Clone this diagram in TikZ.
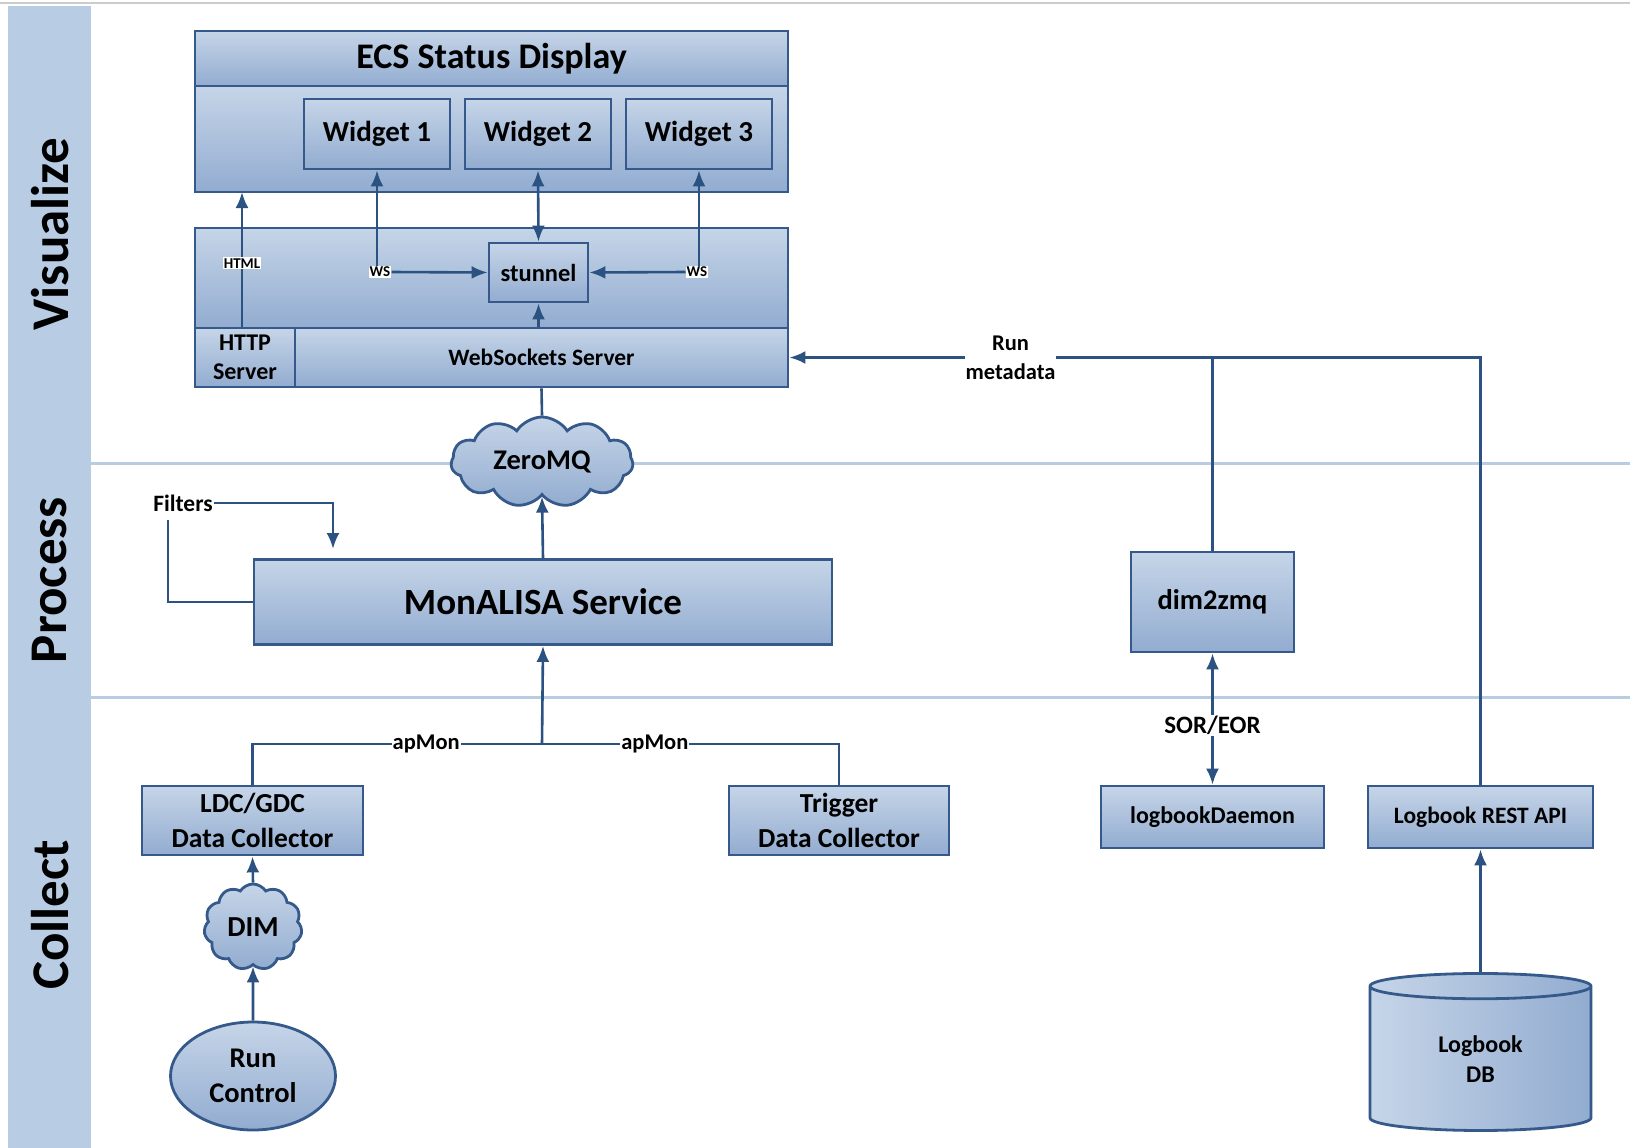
\documentclass[tikz,border=0pt]{standalone}
\usepackage{fontspec}
\setmainfont{Carlito}
\usepackage{tikz}
\usetikzlibrary{positioning,calc,arrows.meta,shapes.symbols,shapes.geometric}

\definecolor{bandblue}{HTML}{B8CCE4}
\definecolor{boxtop}{HTML}{C6D5E8}
\definecolor{boxbot}{HTML}{92ACD0}
\definecolor{edgeblue}{HTML}{34598A}
\definecolor{lineblue}{HTML}{2C5282}

\tikzset{
	box/.style={draw=edgeblue, line width=2.8pt, top color=boxtop, bottom color=boxbot,
		inner sep=0pt, align=center, font=\bfseries\fontsize{29}{33}\selectfont},
	cloudbox/.style={box, cloud, cloud puffs=11, cloud puff arc=115, aspect=2},
	conn/.style={draw=lineblue, line width=2.6pt},
	arr/.style={conn, -{Latex[length=16pt,width=13pt]}},
	biarr/.style={conn, {Latex[length=16pt,width=13pt]}-{Latex[length=16pt,width=13pt]}},
	lbl/.style={fill=white, inner sep=1pt, align=center, font=\bfseries\fontsize{22.5}{29}\selectfont},
	tiny/.style={fill=white, inner sep=1pt, font=\bfseries\fontsize{15}{17}\selectfont},
	lane/.style={rotate=90, font=\bfseries\fontsize{53}{53}\selectfont}
}

\begin{document}
\begin{tikzpicture}[x=1pt, y=-1pt]
	\useasboundingbox (0,0) rectangle (1630,1148);
	% lanes
	\draw[gray!40, line width=2pt] (0,3) -- (1630,3);
	\fill[bandblue] (8,6) rectangle (91,1148);
	\draw[bandblue, line width=3pt] (91,463) -- (1630,463);
	\draw[bandblue, line width=3pt] (91,697) -- (1630,697);
	\node[lane] (visu) at (50,234) {Visualize};
	\node[lane] (proc) at (50,580) {Process};
	\node[lane] (coll) at (50,915) {Collect};

	% status display
	\node[box, minimum width=593pt, minimum height=55pt, font=\bfseries\fontsize{36}{40}\selectfont] (ecstitle) at (491.5,58.5) {ECS Status Display};
	\node[box, minimum width=593pt, minimum height=106pt] (ecsbody) at (491.5,139) {};
	\node[box, minimum width=146pt, minimum height=70pt] (w1) at (377,134) {Widget 1};
	\node[box, minimum width=146pt, minimum height=70pt] (w2) at (538,134) {Widget 2};
	\node[box, minimum width=146pt, minimum height=70pt] (w3) at (699,134) {Widget 3};

	% servers
	\node[box, minimum width=593pt, minimum height=100pt] (srvtop) at (491.5,278) {};
	\node[box, minimum width=100pt, minimum height=59pt, font=\bfseries\fontsize{24}{29}\selectfont] (http) at (245,357.5) {HTTP\\Server};
	\node[box, minimum width=493pt, minimum height=59pt, font=\bfseries\fontsize{23.5}{26}\selectfont] (wss) at (541.5,357.5) {WebSockets Server};
	\node[box, minimum width=99pt, minimum height=59pt, font=\bfseries\fontsize{24.5}{27}\selectfont] (stun) at (538.5,272.5) {stunnel};
	\node[tiny] (wsl) at (380,272) {WS};
	\node[tiny] (wsr) at (697,272) {WS};

	\draw[arr] (http.north -| 242,0) -- node[tiny, pos=0.47] (html) {HTML} (242,192);
	\draw[arr] (wsl.north -| w1.south) -- (w1.south);
	\draw[arr] (wsl.east) -- (stun.west);
	\draw[arr] (wsr.north -| w3.south) -- (w3.south);
	\draw[arr] (wsr.west) -- (stun.east);
	\draw[biarr] (w2.south) -- (stun.north);
	\draw[arr] (stun.south |- wss.north) -- (stun.south);

	% process
	\node[cloudbox, minimum width=182pt, minimum height=90pt, font=\bfseries\fontsize{28.5}{32}\selectfont] (zmq) at (542,462) {ZeroMQ};
	\node[box, minimum width=578pt, minimum height=85pt, font=\bfseries\fontsize{37}{40}\selectfont] (mon) at (543,602) {MonALISA Service};
	\node[font=\bfseries\fontsize{23.5}{26}\selectfont, inner sep=1pt] (filt) at (183,503) {Filters};
	\coordinate (filtin) at (333,549);
	\coordinate (filtout) at (168,520);
	\draw[conn] (wss.south) -- (zmq.north);
	\draw[arr] (mon.north) -- (zmq.south);
	\draw[arr] (filt.east) -| (filtin);
	\draw[conn] (filtout) |- (mon.west);

	% collect
	\node[box, minimum width=221pt, minimum height=69pt, font=\bfseries\fontsize{27.5}{35}\selectfont] (ldc) at (252.5,820.5) {LDC/GDC\\Data Collector};
	\node[box, minimum width=220pt, minimum height=69pt, font=\bfseries\fontsize{27.5}{35}\selectfont] (trg) at (839,820.5) {Trigger\\Data Collector};
	\node[cloudbox, minimum width=98pt, minimum height=86pt] (dim) at (253,927) {DIM};
	\node[box, ellipse, minimum width=165pt, minimum height=108pt, font=\bfseries\fontsize{28.5}{35}\selectfont] (rc) at (253,1076) {Run\\Control};
	\coordinate (jct) at (542,744);
	\draw[arr] (jct) -- (mon.south);
	\draw[conn] (ldc.north) |- node[lbl, pos=0.8] {apMon} (jct);
	\draw[conn] (jct) -| node[lbl, pos=0.19] {apMon} (trg.north);
	\draw[arr] (dim.north) -- (ldc.south);
	\draw[arr] (rc.north) -- (dim.south);

	% logbook side
	\node[box, minimum width=163pt, minimum height=100pt, font=\bfseries\fontsize{28.5}{32}\selectfont] (d2z) at (1212.5,602) {dim2zmq};
	\node[box, minimum width=223pt, minimum height=62pt, font=\bfseries\fontsize{24}{27}\selectfont] (lbd) at (1212.5,817) {logbookDaemon};
	\node[box, minimum width=225pt, minimum height=62pt, font=\bfseries\fontsize{23.5}{27}\selectfont] (rest) at (1480.5,817) {Logbook REST API};
	\node[draw=edgeblue, line width=2.8pt, left color=boxtop, right color=boxbot, cylinder, shape border rotate=90, aspect=0.3,
		minimum width=221pt, minimum height=157pt, inner sep=0pt, align=center, font=\bfseries\fontsize{24}{30}\selectfont] (db) at (1480.5,1059) {Logbook\\DB};
	\draw[biarr] (d2z.south) -- node[lbl, pos=0.55, font=\bfseries\fontsize{25}{28}\selectfont] {SOR/EOR} (lbd.north);
	\draw[arr] (db.north) -- (rest.south);
	\draw[arr] (rest.north) |- node[lbl, pos=0.84] {Run\\metadata} (wss.east);
	\draw[conn] (d2z.north) -- (d2z.north |- wss.east);
\end{tikzpicture}
\end{document}
